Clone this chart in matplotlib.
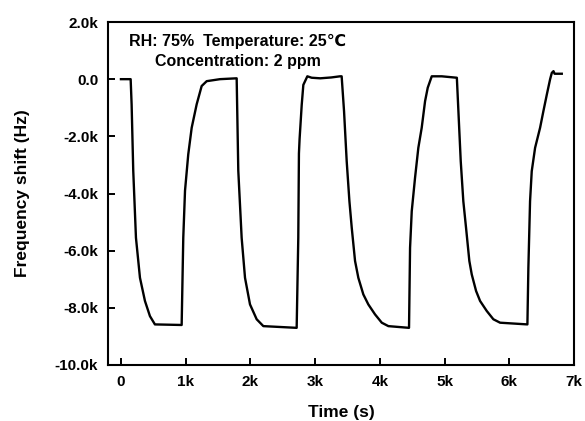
import matplotlib.pyplot as plt
from matplotlib.ticker import FuncFormatter

plt.rcParams['font.family'] = ['Liberation Sans', 'DejaVu Sans']
plt.rcParams['font.weight'] = 'bold'

# time (s) and frequency shift (Hz)
time = [0, 150, 165, 190, 232, 294, 371, 448, 525, 938,
        963, 990, 1040, 1093, 1170, 1247, 1325, 1530, 1788,
        1813, 1865, 1917, 1994, 2097, 2200, 2715,
        2740, 2750, 2760, 2793, 2818, 2880, 2947, 3080, 3250, 3385,
        3410, 3447, 3488, 3530, 3566, 3617, 3668, 3745, 3822, 3926, 4030, 4132, 4451,
        4467, 4493, 4544, 4595, 4647, 4699, 4740, 4802, 4957, 5190,
        5214, 5250, 5290, 5332, 5383, 5420, 5487, 5549, 5652, 5754, 5858, 6280,
        6295, 6321, 6347, 6399, 6476, 6527, 6580, 6631, 6657, 6683, 6700, 6811]
shift = [0, 0, -890, -3200, -5550, -6950, -7760, -8290, -8580, -8600,
         -5550, -3900, -2630, -1700, -880, -240, -70, 0, 30,
         -3200, -5550, -6950, -7880, -8400, -8640, -8700,
         -5550, -2600, -2100, -900, -200, 100, 50, 30, 60, 100,
         100, -1120, -2870, -4270, -5200, -6360, -6950, -7530, -7880, -8230, -8520, -8640, -8700,
         -5900, -4620, -3450, -2400, -1700, -770, -300, 100, 100, 50,
         -1120, -2870, -4270, -5200, -6360, -6830, -7410, -7760, -8110, -8400, -8520, -8580,
         -6600, -4270, -3220, -2400, -1700, -1120, -540, 0, 220, 280, 190, 190]

xticks = [0, 1000, 2000, 3000, 4000, 5000, 6000, 7000]
yticks = [-10000, -8000, -6000, -4000, -2000, 0, 2000]

fig = plt.figure(figsize=(5.85, 4.21), dpi=100)
fig.subplots_adjust(left=108/585, right=574/585, bottom=1-365/421, top=1-22/421)
ax = fig.add_subplot(111)

ax.plot(time, shift, color='black', linewidth=1.7)

ax.set_xlim(-200, 7000)
ax.set_ylim(-10000, 2000)
ax.set_xticks(xticks)
ax.set_yticks(yticks)
ax.xaxis.set_major_formatter(FuncFormatter(lambda v, p: '0' if v == 0 else '%dk' % (v / 1000)))
ax.yaxis.set_major_formatter(FuncFormatter(lambda v, p: '0.0' if v == 0 else '%.1fk' % (v / 1000)))
ax.tick_params(direction='in', length=5, width=1.4, labelsize=11, pad=7)
for s in ax.spines.values():
    s.set_linewidth(1.5)

ax.set_xlabel('Time (s)', fontsize=12.5, fontweight='bold', labelpad=12)
ax.set_ylabel('Frequency shift (Hz)', fontsize=12.5, fontweight='bold', labelpad=18)

ax.text(0.045, 0.942, 'RH: 75%  Temperature: 25\u2103', transform=ax.transAxes,
        fontsize=11.5, fontweight='bold', va='center', ha='left')
ax.text(0.10, 0.886, 'Concentration: 2 ppm', transform=ax.transAxes,
        fontsize=11.5, fontweight='bold', va='center', ha='left')

fig.savefig('out.png', dpi=100)
